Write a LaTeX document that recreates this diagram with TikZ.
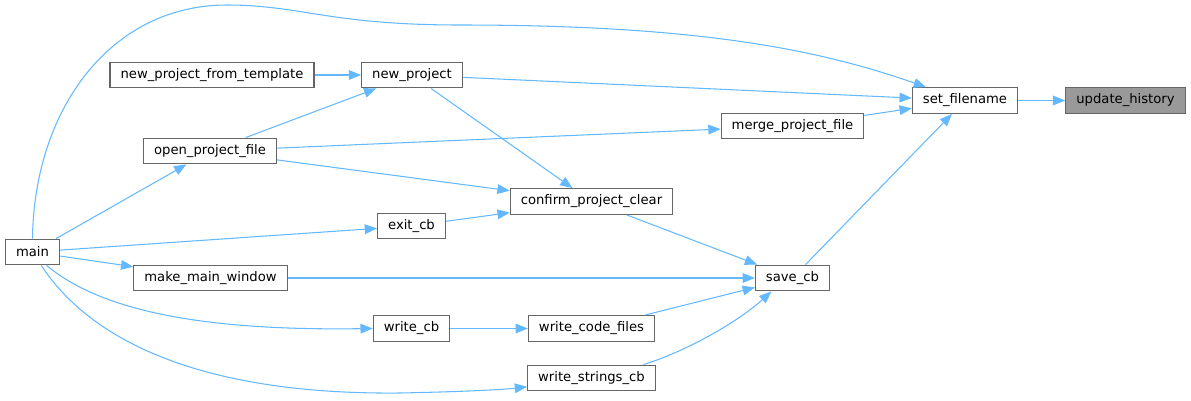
\documentclass[tikz,border=0pt]{standalone}
\usepackage{fontspec}
\setmainfont{DejaVu Sans}
\usepackage{xcolor}
\usepackage{tikz}
\usetikzlibrary{arrows.meta}
\definecolor{cedge}{HTML}{63B8FF}
\definecolor{cborder}{HTML}{666666}
\definecolor{chl}{HTML}{999999}

\begin{document}
\begin{tikzpicture}[x=0.02cm,y=-0.02cm,
    fn/.style={draw=cborder,fill=white,line width=0.6pt,
      minimum height=14.7pt,inner xsep=6pt,inner ysep=0pt,
      font=\fontsize{7.5}{9}\selectfont},
    cur/.style={fn,fill=chl},
    call/.style={cedge,line width=0.6pt,-{Triangle[length=7pt,width=5.5pt]}}]
  \useasboundingbox (0,0) rectangle (1191,400);

  % Functions
  \node[cur] (uh)  at (1125.5,100.5) {update\_history};
  \node[fn]  (sf)  at (965,100.5)    {set\_filename};
  \node[fn]  (npt) at (212,75)       {new\_project\_from\_template};
  \node[fn]  (np)  at (412,75)       {new\_project};
  \node[fn]  (mpf) at (792.5,126)    {merge\_project\_file};
  \node[fn]  (opf) at (210,151)      {open\_project\_file};
  \node[fn]  (cpc) at (591.5,201.5)  {confirm\_project\_clear};
  \node[fn]  (ecb) at (411.5,226)    {exit\_cb};
  \node[fn]  (main) at (32.5,252)    {main};
  \node[fn]  (mmw) at (210.5,278)    {make\_main\_window};
  \node[fn]  (scb) at (792.5,278)    {save\_cb};
  \node[fn]  (wcb) at (411.5,328.5)  {write\_cb};
  \node[fn]  (wcf) at (591.5,328.5)  {write\_code\_files};
  \node[fn]  (wsc) at (591.5,378)    {write\_strings\_cb};

  % Calls
  \draw[call] (sf) -- (uh);
  \draw[call] (np) -- (sf);
  \draw[call] (mpf) -- (sf);
  \draw[call] (scb) -- (sf);
  \draw[call] (main.north) .. controls (34,110) and (110,5) .. (227,5)
    .. controls (300,5) and (330,25) .. (460,25)
    .. controls (700,25) and (820,50) .. ([xshift=8pt]sf.north west);
  \draw[call] (npt) -- (np);
  \draw[call] (opf) -- (np);
  \draw[call] (np) -- (cpc);
  \draw[call] (opf) -- (mpf);
  \draw[call] (opf) -- (cpc);
  \draw[call] (ecb) -- (cpc);
  \draw[call] (main) -- (opf);
  \draw[call] (main) -- (ecb);
  \draw[call] (main) -- (mmw);
  \draw[call] (cpc) -- (scb);
  \draw[call] (mmw) -- (scb);
  \draw[call] (wcf) -- (scb);
  \draw[call] (wcb) -- (wcf);
  \draw[call] ([xshift=8pt]main.south) .. controls (100,310) and (200,331)
    .. (wcb.west);
  \draw[call] ([xshift=5pt]main.south) .. controls (90,340) and (200,395)
    .. (400,393) .. controls (450,392) and (500,390) .. ([yshift=-5pt]wsc.west);
  \draw[call] ([xshift=-7pt]wsc.north east) .. controls (690,350) and (740,320)
    .. ([xshift=-12pt]scb.south);
\end{tikzpicture}
\end{document}
